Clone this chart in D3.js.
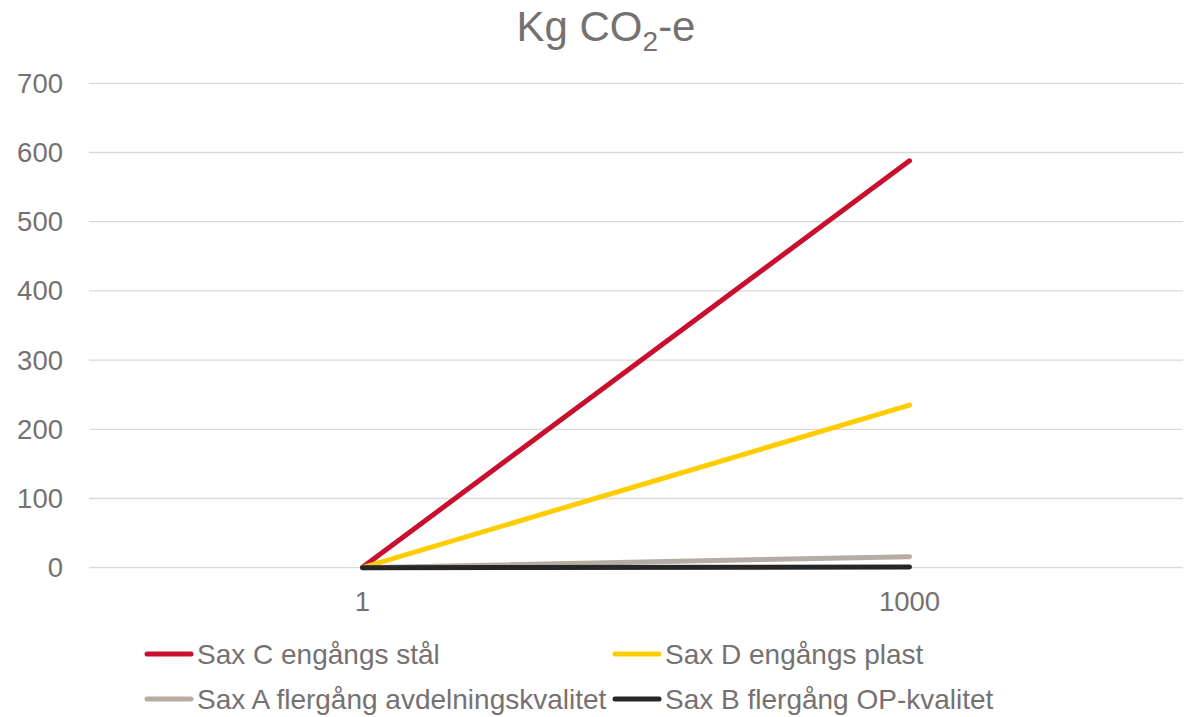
<!DOCTYPE html>
<html>
<head>
<meta charset="utf-8">
<script src="https://cdn.jsdelivr.net/npm/d3@7"></script>
<style>
  body { margin: 0; background: #fff; }
  text { font-family: "Liberation Sans", Arial, sans-serif; fill: #767171; }
</style>
</head>
<body>
<script>
var width = 1191;
var height = 717;

var categories = ['1', '1000'];
var seriesNames = ['Sax C engångs stål', 'Sax D engångs plast', 'Sax A flergång avdelningskvalitet', 'Sax B flergång OP-kvalitet'];
var saxC = [0.6, 588];
var saxD = [0.2, 235];
var saxA = [0.1, 16];
var saxB = [0.05, 1];
var yTicks = [0, 100, 200, 300, 400, 500, 600, 700];
var colors = ['#C8102E', '#FFCC00', '#B5ACA3', '#262626'];

var series = [saxC, saxD, saxA, saxB];

var svg = d3.select('body').append('svg')
  .attr('width', width)
  .attr('height', height);

var x = d3.scaleBand().domain(categories).range([89, 1183]);
var y = d3.scaleLinear().domain([0, 700]).range([567.7, 83.3]);

// title
var title = svg.append('text')
  .attr('x', 606)
  .attr('y', 41)
  .attr('text-anchor', 'middle')
  .style('font-size', '42px');
title.append('tspan').text('Kg CO');
title.append('tspan').attr('dy', 10).style('font-size', '28px').text('2');
title.append('tspan').attr('dy', -10).text('-e');

// grid
svg.append('g').selectAll('line')
  .data(yTicks)
  .enter().append('line')
  .attr('x1', 89)
  .attr('x2', 1183)
  .attr('y1', function(d) { return y(d); })
  .attr('y2', function(d) { return y(d); })
  .attr('stroke', '#D9D9D9')
  .attr('stroke-width', 1.3);

// y labels
svg.append('g').selectAll('text')
  .data(yTicks)
  .enter().append('text')
  .attr('x', 63)
  .attr('y', function(d) { return y(d) + 9.5; })
  .attr('text-anchor', 'end')
  .style('font-size', '27.5px')
  .text(function(d) { return d; });

// x labels
svg.append('g').selectAll('text')
  .data(categories)
  .enter().append('text')
  .attr('x', function(d) { return x(d) + x.bandwidth() / 2; })
  .attr('y', 611)
  .attr('text-anchor', 'middle')
  .style('font-size', '27.5px')
  .text(function(d) { return d; });

var line = d3.line()
  .x(function(d, i) { return x(categories[i]) + x.bandwidth() / 2; })
  .y(function(d) { return y(d); });

// draw from back to front so black sits on top
svg.append('g').selectAll('path')
  .data(series)
  .enter().append('path')
  .attr('d', line)
  .attr('fill', 'none')
  .attr('stroke', function(d, i) { return colors[i]; })
  .attr('stroke-width', 5)
  .attr('stroke-linecap', 'round')
  .attr('stroke-linejoin', 'round');

// legend
var legendPos = [[145, 654], [613, 654], [145, 699], [613, 699]];
var legend = svg.append('g').selectAll('g')
  .data(seriesNames)
  .enter().append('g')
  .attr('transform', function(d, i) { return 'translate(' + legendPos[i][0] + ',' + legendPos[i][1] + ')'; });

legend.append('line')
  .attr('x1', 2)
  .attr('x2', 46)
  .attr('stroke', function(d, i) { return colors[i]; })
  .attr('stroke-width', 5)
  .attr('stroke-linecap', 'round');

legend.append('text')
  .attr('x', 52)
  .attr('y', 10)
  .style('font-size', '28px')
  .text(function(d) { return d; });
</script>
</body>
</html>
